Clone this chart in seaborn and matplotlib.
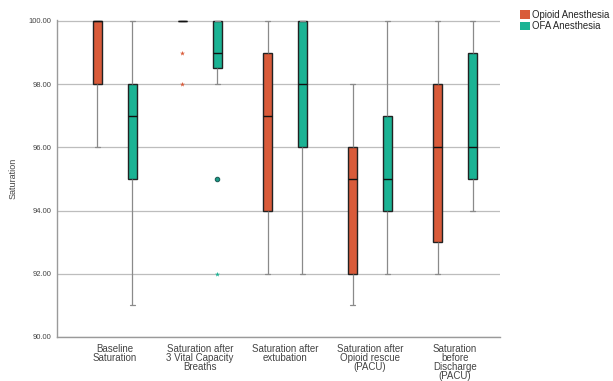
import pandas as pd
import numpy as np
import matplotlib
matplotlib.use("Agg")
import matplotlib.pyplot as plt
import seaborn as sns
from matplotlib.patches import Patch

# --------------------------------------------------------------
# Data
# --------------------------------------------------------------
stages = [
    "Baseline\nSaturation",
    "Saturation after\n3 Vital Capacity\nBreaths",
    "Saturation after\nextubation",
    "Saturation after\nOpioid rescue\n(PACU)",
    "Saturation\nbefore\nDischarge\n(PACU)",
]
groups = ["Opioid Anesthesia", "OFA Anesthesia"]

opioid_values = [
    [96, 97, 98, 99, 100, 100, 100, 100, 100],
    [98, 99, 100, 100, 100, 100, 100, 100, 100],
    [92, 93, 94, 96, 97, 98, 99, 100, 100],
    [91, 91, 92, 94, 95, 95, 96, 97, 98],
    [92, 92, 93, 95, 96, 97, 98, 99, 100],
]
ofa_values = [
    [91, 93, 95, 96, 97, 97, 98, 99, 100],
    [92, 95, 98, 98.5, 99, 99, 99, 99.5, 100, 100, 100, 100, 100],
    [92, 94, 96, 97, 98, 99, 100, 100, 100],
    [92, 93, 94, 95, 95, 96, 97, 99, 100],
    [94, 94, 95, 96, 96, 98, 99, 100, 100],
]

y_ticks = [90, 92, 94, 96, 98, 100]

rows = []
for stage, vals in zip(stages, opioid_values):
    rows += [(stage, groups[0], v) for v in vals]
for stage, vals in zip(stages, ofa_values):
    rows += [(stage, groups[1], v) for v in vals]
df = pd.DataFrame(rows, columns=["stage", "group", "saturation"])

# --------------------------------------------------------------
# Plot
# --------------------------------------------------------------
sns.set_style("white")
plt.rcParams["font.family"] = ["Liberation Sans", "DejaVu Sans"]

fig = plt.figure(figsize=(6.13, 3.81), dpi=100)
ax = fig.add_axes([0.093, 0.1155, 0.723, 0.832])

palette = {"Opioid Anesthesia": "#D95B3A", "OFA Anesthesia": "#1BB394"}
width = 0.82
sns.boxplot(
    data=df, x="stage", y="saturation", hue="group", order=stages,
    hue_order=groups, palette=palette, width=width, gap=0.74,
    linewidth=1.0, linecolor="#222222", saturation=1, ax=ax,
    whiskerprops={"color": "#8a8a8a", "linewidth": 0.9},
    capprops={"color": "#8a8a8a", "linewidth": 0.9},
    medianprops={"color": "#111111", "linewidth": 1.0},
    showfliers=False, legend=False,
)

# SPSS-style outliers: circle beyond 1.5 IQR, star beyond 3 IQR
offsets = {groups[0]: -width / 4, groups[1]: width / 4}
for i, stage in enumerate(stages):
    for g in groups:
        v = df.loc[(df.stage == stage) & (df.group == g), "saturation"].to_numpy()
        q1, q3 = np.percentile(v, [25, 75])
        iqr = q3 - q1
        far = v[(v < q1 - 3 * iqr) | (v > q3 + 3 * iqr)]
        mild = v[((v < q1 - 1.5 * iqr) | (v > q3 + 1.5 * iqr))
                 & ~np.isin(v, far)]
        x = i + offsets[g]
        ax.scatter(np.full(len(far), x), far, marker="*", s=14,
                   color=palette[g], linewidths=0, zorder=3)
        ax.scatter(np.full(len(mild), x), mild, marker="o", s=10,
                   color="#1a9c88", edgecolors="#1f5f58", linewidths=0.8,
                   zorder=3)

ax.set_ylim(90, 100.03)
ax.set_xlim(-0.68, 4.53)
ax.set_yticks(y_ticks)
ax.set_yticklabels([f"{t:.2f}" for t in y_ticks], fontsize=5.5, color="#444444")
ax.tick_params(axis="x", labelsize=7, colors="#444444", length=0, pad=5)
ax.tick_params(axis="y", length=0, pad=4)
for lab in ax.get_xticklabels():
    lab.set_linespacing(0.88)
ax.yaxis.grid(True, color="#bdbdbd", linewidth=0.9)
ax.set_axisbelow(True)
ax.set_xlabel("")
ax.set_ylabel("Saturation", fontsize=6.5, color="#444444", labelpad=8)
sns.despine(ax=ax, top=True, right=True)
for side in ["left", "bottom"]:
    ax.spines[side].set_color("#9a9a9a")
    ax.spines[side].set_linewidth(1.0)

# legend outside, right of the plot
handles = [Patch(facecolor=palette[g], edgecolor="none") for g in groups]
fig.legend(handles, groups, loc="upper left", bbox_to_anchor=(0.842, 0.985),
           frameon=False, fontsize=6.9, handlelength=1.0, handleheight=1.0,
           handletextpad=0.3, labelspacing=0.2, borderaxespad=0)

fig.savefig("out.png", dpi=100)
